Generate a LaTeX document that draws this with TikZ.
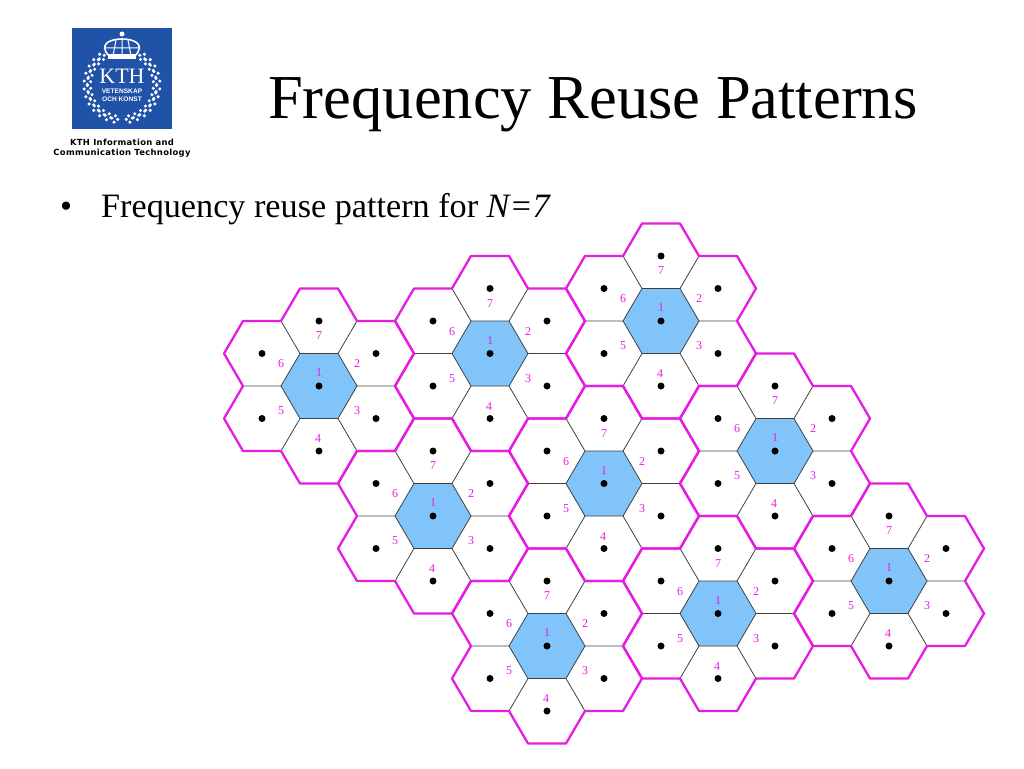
\documentclass[tikz,border=0pt]{standalone}
\usepackage{xcolor}
\usepackage{fontspec}
\usepackage{tikz}
\usetikzlibrary{positioning, calc}
\setmainfont{Liberation Serif}
\setsansfont{Liberation Sans}
\newfontfamily\captionfont[LetterSpace=4]{DejaVu Sans}
\definecolor{kthblue}{RGB}{32, 82, 168}
\definecolor{cellblue}{RGB}{128, 196, 250}
\definecolor{cellmagenta}{RGB}{230, 28, 225}

\tikzset{
    celldot/.style={circle, fill=black, inner sep=0pt, minimum size=7pt},
    celllabel/.style={text=cellmagenta, inner sep=0pt, font=\fontsize{12}{12}\selectfont},
    spoke/.style={draw=black!75, line width=0.8pt},
    rim/.style={draw=cellmagenta, line width=2.3pt, line join=round},
    logotext/.style={text=white, inner sep=0pt}
}

% one cluster of seven cells: #1 name, #2 x, #3 y
\newcommand{\cellcluster}[3]{
\begin{scope}[shift={(#2,#3)}]
\path[fill=cellblue, spoke] (-19,-32.5) -- (19,-32.5) -- (38,0) -- (19,32.5) -- (-19,32.5) -- (-38,0) -- cycle;
\draw[spoke] (19,-32.5) -- (38,-65) (38,0) -- (76,0) (19,32.5) -- (38,65);
\draw[spoke] (-19,32.5) -- (-38,65) (-38,0) -- (-76,0) (-19,-32.5) -- (-38,-65);
\draw[rim] (-19,-97.5) -- (19,-97.5) -- (38,-65) -- (76,-65) -- (95,-32.5) -- (76,0) -- (95,32.5) -- (76,65) -- (38,65) -- (19,97.5) -- (-19,97.5) -- (-38,65) -- (-76,65) -- (-95,32.5) -- (-76,0) -- (-95,-32.5) -- (-76,-65) -- (-38,-65) -- cycle;
\foreach \n/\px/\py/\lx/\ly in {1/0/0/0/-13, 2/57/-32.5/38/-22, 3/57/32.5/38/25, 4/0/65/-1/53, 5/-57/32.5/-38/25, 6/-57/-32.5/-38/-22, 7/0/-65/0/-50}{
    \node[celldot] (#1-dot\n) at (\px,\py) {};
    \node[celllabel] (#1-num\n) at (\lx,\ly) {\n};
}
\end{scope}
}

% one leaf cluster of the wreath: #1 angle
\newcommand{\wreathleaf}[1]{
\fill[white] (122,85) ++({#1}:{38}) circle (1.7pt) ++({#1}:{-3.5}) ++({#1+90}:{3}) circle (1.7pt) ++({#1+90}:{-6}) circle (1.7pt) ++({#1}:{-3}) ++({#1+90}:{3}) circle (1.7pt);
}

\begin{document}
\begin{tikzpicture}[x=1pt, y=-1pt]
\useasboundingbox (0,0) rectangle (1024,768);

% logo
\fill[kthblue] (72,28) rectangle (172,129);
\foreach \a in {-54,-42,...,78}{
    \wreathleaf{\a}
    \wreathleaf{180-\a}
}
\draw[white, line width=1.6pt, fill=kthblue] (109,56) .. controls (98,44) and (110,39) .. (122,39) .. controls (134,39) and (146,44) .. (135,56) -- cycle;
\draw[white, line width=1pt] (122,39) -- (122,56) (116,40) -- (113,56) (128,40) -- (131,56) (104,48) -- (140,48);
\fill[white] (122,34) circle (2.5pt);
\fill[white] (108,54) rectangle (136,59);
\node[logotext, font=\fontsize{22}{22}\selectfont] (kth) at (122,76.5) {KTH};
\node[logotext, font=\sffamily\bfseries\fontsize{6.6}{6.6}\selectfont] (vetenskap) at (122,91.5) {VETENSKAP};
\node[logotext, font=\sffamily\bfseries\fontsize{6.6}{6.6}\selectfont] (konst) at (122,99) {OCH KONST};
\node[inner sep=0pt, align=center, font=\captionfont\bfseries\fontsize{8.4}{10}\selectfont] (logocaption) at (122,148.5) {KTH Information and\\Communication Technology};

% title and bullet
\node[anchor=base west, inner sep=0pt, font=\fontsize{62.5}{62.5}\selectfont] (title) at (268,118) {Frequency Reuse Patterns};
\node[anchor=base, inner sep=0pt, font=\fontsize{34.2}{34.2}\selectfont] (bullet) at (66,217) {•};
\node[anchor=base west, inner sep=0pt, font=\fontsize{34.2}{34.2}\selectfont] (heading) at (101,217) {Frequency reuse pattern for \textit{N=7}};

% clusters
\cellcluster{a}{319}{386}
\cellcluster{b}{490}{353.5}
\cellcluster{c}{661}{321}
\cellcluster{d}{433}{516}
\cellcluster{e}{604}{483.5}
\cellcluster{f}{775}{451}
\cellcluster{g}{547}{646}
\cellcluster{h}{718}{613.5}
\cellcluster{i}{889}{581}

\end{tikzpicture}
\end{document}
